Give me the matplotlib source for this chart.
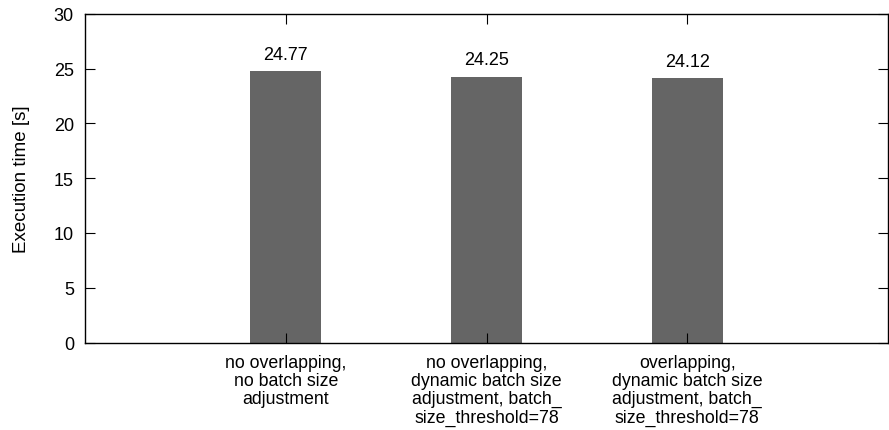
import matplotlib
matplotlib.use('Agg')
import matplotlib.pyplot as plt

plt.rcParams['font.family'] = ['Liberation Sans', 'DejaVu Sans']

categories = ['no overlapping,\nno batch size\nadjustment',
              'no overlapping,\ndynamic batch size\nadjustment, batch_\nsize_threshold=78',
              'overlapping,\ndynamic batch size\nadjustment, batch_\nsize_threshold=78']
times = [24.77, 24.25, 24.12]
positions = [1, 2, 3]

fig = plt.figure(figsize=(8.89, 4.31), dpi=100)
ax = fig.add_axes([85 / 889, 1 - 343.5 / 431, 803 / 889, 328.8 / 431])

ax.bar(positions, times, width=0.355, color='#656565')
for x, v in zip(positions, times):
    ax.annotate('%.2f' % v, (x, v), xytext=(0, 6), textcoords='offset points',
                ha='center', va='bottom', fontsize=13)

ax.set_xlim(0, 4)
ax.set_ylim(0, 30)
ax.set_yticks([0, 5, 10, 15, 20, 25, 30])
ax.set_xticks(positions)
ax.set_xticklabels(categories, fontsize=12.8, linespacing=1.1)
ax.tick_params(axis='y', labelsize=13, direction='in', right=True, length=7, pad=8)
ax.tick_params(axis='x', direction='in', top=True, length=7, pad=8)
ax.set_ylabel('Execution time [s]', fontsize=13.5, labelpad=17)
for s in ax.spines.values():
    s.set_linewidth(1.0)

fig.savefig('out.png', dpi=100)
